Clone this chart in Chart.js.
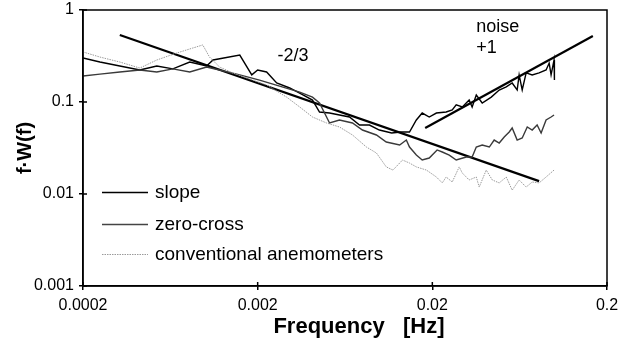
<!DOCTYPE html>
<html lang="en">
<head>
<meta charset="UTF-8">
<title>f·W(f) spectra</title>
<script src="https://cdn.jsdelivr.net/npm/chart.js"></script>
<style>
  html, body { margin: 0; padding: 0; background: #fff; }
  #wrap { width: 624px; height: 346px; }
</style>
</head>
<body>
<div id="wrap"><canvas id="spec"></canvas></div>
<script>
var xTicks = [0.0002, 0.002, 0.02, 0.2];
var yTicks = [0.001, 0.01, 0.1, 1];

// guide lines: -2/3 and +1 (noise)
var slopeFreq = [0.000325, 0.0817];
var slopeVal = [0.535, 0.0138];
var noiseFreq = [0.0182, 0.166];
var noiseVal = [0.0522, 0.521];

// zero-cross, trace that ends on the noise line
var zcFreqA = [0.0002, 0.00025, 0.000325, 0.000423, 0.000529, 0.000654, 0.000817, 0.00102, 0.00111, 0.00158,
  0.00185, 0.002, 0.00225, 0.00257, 0.00305, 0.00348, 0.00412, 0.00452, 0.00516, 0.00671,
  0.00766, 0.00873, 0.00995, 0.0117, 0.0132, 0.0148, 0.0162, 0.0175, 0.0192, 0.0211,
  0.024, 0.026, 0.0274, 0.0297, 0.0325, 0.0338, 0.0357, 0.0386, 0.0435, 0.0483,
  0.053, 0.0573, 0.0612, 0.0628, 0.0654, 0.0689, 0.0746, 0.0817, 0.0896, 0.0933,
  0.0957, 0.0995, 0.1];
var zcValA = [0.301, 0.272, 0.246, 0.223, 0.246, 0.229, 0.272, 0.246, 0.286, 0.324,
  0.197, 0.223, 0.212, 0.161, 0.142, 0.125, 0.105, 0.0778, 0.0759, 0.0687,
  0.0562, 0.0562, 0.0496, 0.046, 0.0472, 0.0472, 0.0637, 0.0759, 0.0687, 0.0759,
  0.0778, 0.0818, 0.093, 0.0883, 0.105, 0.0883, 0.119, 0.0976, 0.113, 0.135,
  0.146, 0.161, 0.135, 0.197, 0.135, 0.207, 0.197, 0.207, 0.223, 0.265,
  0.197, 0.286, 0.173];

// zero-cross, second trace
var zcFreqB = [0.0002, 0.00025, 0.000325, 0.000423, 0.000529, 0.000654, 0.000817, 0.00102, 0.00121, 0.00158,
  0.00205, 0.00267, 0.00348, 0.00412, 0.00452, 0.00516, 0.00588, 0.00698, 0.00796, 0.00957,
  0.0109, 0.013, 0.0142, 0.0148, 0.0162, 0.0175, 0.0192, 0.0213, 0.0228, 0.025,
  0.0274, 0.0313, 0.0338, 0.0357, 0.0386, 0.0424, 0.0452, 0.0483, 0.0516, 0.0551,
  0.0573, 0.0612, 0.0654, 0.0699, 0.0746, 0.0796, 0.0839, 0.0896, 0.0957, 0.0995];
var zcValB = [0.192, 0.201, 0.212, 0.223, 0.212, 0.229, 0.212, 0.24, 0.223, 0.197,
  0.173, 0.149, 0.128, 0.113, 0.0976, 0.0591, 0.0637, 0.0591, 0.0496, 0.0438,
  0.0367, 0.0341, 0.0386, 0.0324, 0.0265, 0.0234, 0.0246, 0.0301, 0.0286, 0.0265,
  0.0234, 0.0252, 0.0252, 0.0324, 0.0341, 0.0324, 0.0386, 0.0358, 0.0417, 0.0472,
  0.0522, 0.0386, 0.0406, 0.0535, 0.0496, 0.0562, 0.046, 0.0637, 0.0687, 0.0722];

// conventional anemometers
var convFreq = [0.0002, 0.00025, 0.000325, 0.000423, 0.000529, 0.000689, 0.00085, 0.00097, 0.00106, 0.00121,
  0.00144, 0.00187, 0.00225, 0.00293, 0.00348, 0.00412, 0.00496, 0.00588, 0.00698, 0.00839,
  0.00957, 0.0109, 0.0119, 0.0135, 0.0148, 0.0162, 0.0185, 0.0211, 0.0228, 0.024,
  0.026, 0.0285, 0.0297, 0.0325, 0.0357, 0.0371, 0.0407, 0.0441, 0.0483, 0.053,
  0.0573, 0.0628, 0.0689, 0.0746, 0.0817, 0.0896, 0.0995];
var convVal = [0.35, 0.308, 0.272, 0.234, 0.286, 0.341, 0.386, 0.417, 0.308, 0.24,
  0.207, 0.173, 0.153, 0.113, 0.0883, 0.0687, 0.0591, 0.0535, 0.0438, 0.0324,
  0.0279, 0.0197, 0.0182, 0.0234, 0.0217, 0.0197, 0.0182, 0.0153, 0.0132, 0.0153,
  0.0135, 0.0197, 0.0169, 0.0142, 0.0153, 0.0119, 0.0182, 0.0142, 0.0132, 0.0153,
  0.011, 0.0142, 0.0119, 0.0135, 0.0132, 0.0153, 0.0182];

function pts(fs, vs) {
  return fs.map(function(f, i) { return { x: f, y: vs[i] }; });
}

var FONT = '"Liberation Sans", Arial, Helvetica, sans-serif';

var legendItems = [
  { label: 'slope', color: '#000', width: 1.5, dash: [] },
  { label: 'zero-cross', color: '#444', width: 1.5, dash: [] },
  { label: 'conventional anemometers', color: '#9a9a9a', width: 1, dash: [1.5, 1] }
];

var extras = {
  id: 'extras',
  afterDraw: function(chart) {
    var c = chart.ctx, a = chart.chartArea;
    var xs = chart.scales.x, ys = chart.scales.y;
    c.save();
    c.strokeStyle = '#000';
    c.lineWidth = 1.5;
    c.strokeRect(a.left, a.top, a.right - a.left, a.bottom - a.top);
    c.beginPath();
    xTicks.forEach(function(v) {
      var px = xs.getPixelForValue(v);
      c.moveTo(px, a.bottom); c.lineTo(px, a.bottom - 4);
    });
    yTicks.forEach(function(v) {
      var py = ys.getPixelForValue(v);
      c.moveTo(a.left, py); c.lineTo(a.left + 4, py);
    });
    c.stroke();

    // slope labels
    c.fillStyle = '#000';
    c.font = '18px ' + FONT;
    c.textBaseline = 'middle';
    c.textAlign = 'left';
    c.fillText('-2/3', xs.getPixelForValue(0.0026), ys.getPixelForValue(0.316));
    c.fillText('noise', xs.getPixelForValue(0.0357), ys.getPixelForValue(0.646));
    c.fillText('+1', xs.getPixelForValue(0.0357), ys.getPixelForValue(0.386));

    // legend inside the plot
    c.font = '19px ' + FONT;
    legendItems.forEach(function(it, i) {
      var y = Math.round(a.top + 182 + [0, 32, 62][i]) + 0.5;
      c.beginPath();
      c.strokeStyle = it.color;
      c.lineWidth = it.width;
      c.setLineDash(it.dash);
      c.moveTo(a.left + 19, y); c.lineTo(a.left + 65, y);
      c.stroke();
      c.setLineDash([]);
      c.fillStyle = '#000';
      c.fillText(it.label, a.left + 72, y);
    });

    // x axis title, a little right of centre as in the original
    c.font = 'bold 22px ' + FONT;
    c.textAlign = 'center';
    c.fillText('Frequency   [Hz]', (a.left + a.right) / 2 + 14, 327);
    c.restore();
  }
};

var ctx = document.getElementById('spec').getContext('2d');
var chart = new Chart(ctx, {
  type: 'line',
  data: {
    datasets: [
      { label: 'conventional anemometers', data: pts(convFreq, convVal), borderColor: '#9a9a9a', borderWidth: 1, borderDash: [1.5, 1] },
      { label: 'zero-cross', data: pts(zcFreqB, zcValB), borderColor: '#3a3a3a', borderWidth: 1.4 },
      { label: 'zero-cross', data: pts(zcFreqA, zcValA), borderColor: '#000', borderWidth: 1.4 },
      { label: 'slope', data: pts(slopeFreq, slopeVal), borderColor: '#000', borderWidth: 2.2 },
      { label: 'slope', data: pts(noiseFreq, noiseVal), borderColor: '#000', borderWidth: 2.2 }
    ]
  },
  options: {
    responsive: true,
    maintainAspectRatio: false,
    animation: false,
    layout: { padding: { left: 0, right: 17, top: 10, bottom: 0 } },
    elements: { point: { radius: 0 }, line: { tension: 0, fill: false } },
    plugins: { legend: { display: false }, tooltip: { enabled: false } },
    scales: {
      x: {
        type: 'logarithmic',
        min: 0.0002, max: 0.2,
        afterBuildTicks: function(s) { s.ticks = xTicks.map(function(v) { return { value: v }; }); },
        afterFit: function(s) { s.height = 60; s.paddingLeft = 0; s.paddingRight = 0; },
        grid: { drawOnChartArea: false, tickLength: 4, color: '#000', lineWidth: 1.5 },
        border: { color: '#000', width: 1.5 },
        ticks: { autoSkip: false, maxRotation: 0, padding: 6, color: '#000',
          font: { family: FONT, size: 16 },
          callback: function(v) { return String(v); } },
        title: { display: false }
      },
      y: {
        type: 'logarithmic',
        min: 0.001, max: 1,
        afterBuildTicks: function(s) { s.ticks = yTicks.map(function(v) { return { value: v }; }); },
        afterFit: function(s) { s.width = 83; s.paddingTop = 0; s.paddingBottom = 0; },
        grid: { drawOnChartArea: false, tickLength: 4, color: '#000', lineWidth: 1.5 },
        border: { color: '#000', width: 1.5 },
        ticks: { autoSkip: false, padding: 5, color: '#000',
          font: { family: FONT, size: 16 },
          callback: function(v) { return String(v); } },
        title: { display: true, text: 'f·W(f)', color: '#000',
          font: { family: FONT, size: 20, weight: 'bold' }, padding: { top: 13, bottom: 0 } }
      }
    }
  },
  plugins: [extras]
});
</script>
</body>
</html>
